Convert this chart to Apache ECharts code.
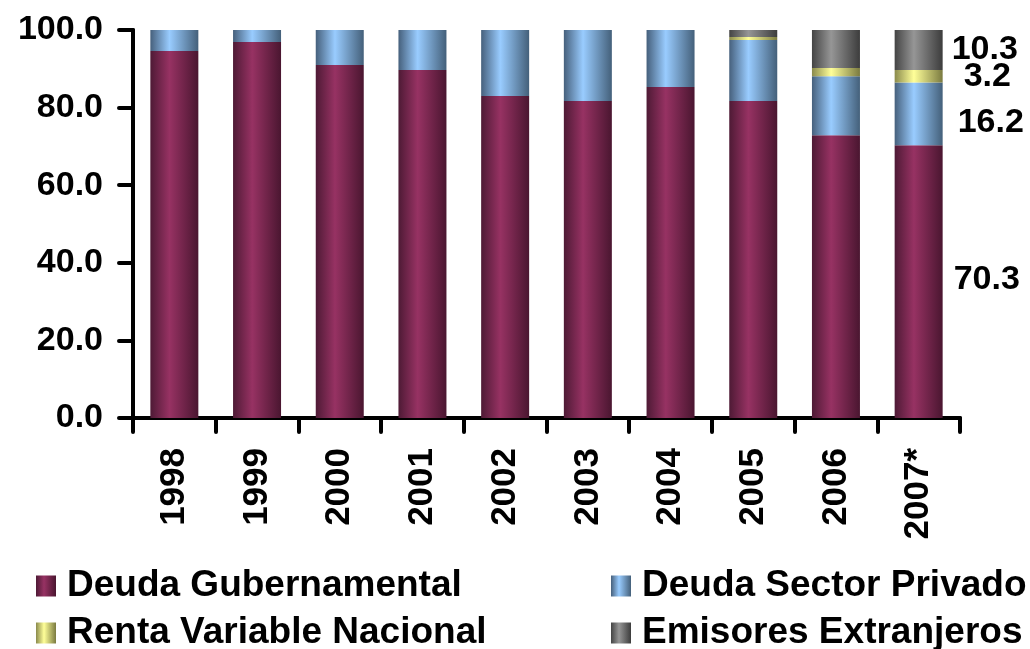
<!DOCTYPE html>
<html lang="es">
  <head>
    <meta charset="UTF-8" />
    <title>Composición de cartera</title>
    <script src="https://cdn.jsdelivr.net/npm/echarts@6/dist/echarts.min.js"></script>
    <style>
      * { margin: 0; padding: 0; box-sizing: border-box; }
      body { background: #fff; }
      #chart { width: 1030px; height: 649px; }
    </style>
  </head>
  <body>
    <div id="chart"></div>
    <script>
      /* ---------- data ---------- */
      const years = ["1998", "1999", "2000", "2001", "2002", "2003", "2004", "2005", "2006", "2007*"];
      const deudaGub = [94.6, 96.9, 91.0, 89.7, 83.0, 81.7, 85.3, 81.7, 72.9, 70.3];
      const deudaPriv = [5.4, 3.1, 9.0, 10.3, 17.0, 18.3, 14.7, 15.7, 15.2, 16.2];
      const rentaVar = [0, 0, 0, 0, 0, 0, 0, 0.8, 2.1, 3.2];
      const emisores = [0, 0, 0, 0, 0, 0, 0, 1.8, 9.8, 10.3];

      /* ---------- helpers ---------- */
      const FONT = "'Liberation Sans', Arial, sans-serif";
      const grad = (edge, mid, dark) =>
        new echarts.graphic.LinearGradient(0, 0, 1, 0, [
          { offset: 0, color: edge },
          { offset: 0.4, color: mid },
          { offset: 1, color: dark },
        ]);

      // label only on the last bar, right of it
      const withLastLabel = (arr, offset) =>
        arr.map((v, i) =>
          i === arr.length - 1
            ? { value: v, label: { show: true, position: "right", distance: 11, offset: offset } }
            : v
        );

      const chart = echarts.init(document.getElementById("chart"), null, { renderer: "canvas" });

      const seriesBase = {
        type: "bar",
        stack: "total",
        barWidth: 48,
        label: {
          show: false,
          color: "#000",
          fontFamily: FONT,
          fontWeight: "bold",
          fontSize: 34,
        },
      };

      const legendText = {
        fontSize: 37,
        fontWeight: "bold",
        color: "#000",
        fontFamily: FONT,
        lineHeight: 40,
        padding: [0, 0, 0, 6],
      };

      const legendBase = {
        orient: "vertical",
        top: 561,
        height: 110,
        icon: "rect",
        itemWidth: 20,
        itemHeight: 21,
        itemGap: 7,
        textStyle: legendText,
      };

      const option = {
        backgroundColor: "#fff",
        animation: false,
        textStyle: { fontFamily: FONT },
        grid: { left: 133, right: 70, top: 30, bottom: 231 },
        legend: [
          { ...legendBase, left: 31, data: ["Deuda Gubernamental", "Renta Variable Nacional"] },
          { ...legendBase, left: 606, data: ["Deuda Sector Privado", "Emisores Extranjeros"] },
        ],
        xAxis: {
          type: "category",
          data: years,
          axisLine: { lineStyle: { color: "#000", width: 4 } },
          axisTick: { show: true, length: 14, lineStyle: { color: "#000", width: 4, cap: "round" } },
          axisLabel: {
            rotate: 90,
            margin: 30,
            color: "#000",
            fontSize: 35,
            fontWeight: "bold",
            fontFamily: FONT,
          },
        },
        yAxis: {
          type: "value",
          min: 0,
          max: 100,
          interval: 20,
          axisLine: { show: true, lineStyle: { color: "#000", width: 4 } },
          axisTick: { show: true, length: 14, lineStyle: { color: "#000", width: 4, cap: "round" } },
          splitLine: { show: false },
          axisLabel: {
            margin: 30,
            color: "#000",
            fontSize: 34,
            fontWeight: "bold",
            fontFamily: FONT,
            formatter: (v) => v.toFixed(1),
          },
        },
        series: [
          {
            ...seriesBase,
            name: "Deuda Gubernamental",
            data: withLastLabel(deudaGub, [0, -2]),
            itemStyle: { color: grad("#4e1a35", "#973263", "#4a1630") },
          },
          {
            ...seriesBase,
            name: "Deuda Sector Privado",
            data: withLastLabel(deudaPriv, [4, 9]),
            itemStyle: { color: grad("#46607c", "#99ccff", "#44607a") },
          },
          {
            ...seriesBase,
            name: "Renta Variable Nacional",
            data: withLastLabel(rentaVar, [10, 0]),
            itemStyle: { color: grad("#8a8a4c", "#ffff99", "#7a7a40") },
          },
          {
            ...seriesBase,
            name: "Emisores Extranjeros",
            data: withLastLabel(emisores, [-2, 0]),
            itemStyle: { color: grad("#444444", "#969696", "#3c3c3c") },
          },
        ],
      };

      chart.setOption(option);
    </script>
  </body>
</html>
